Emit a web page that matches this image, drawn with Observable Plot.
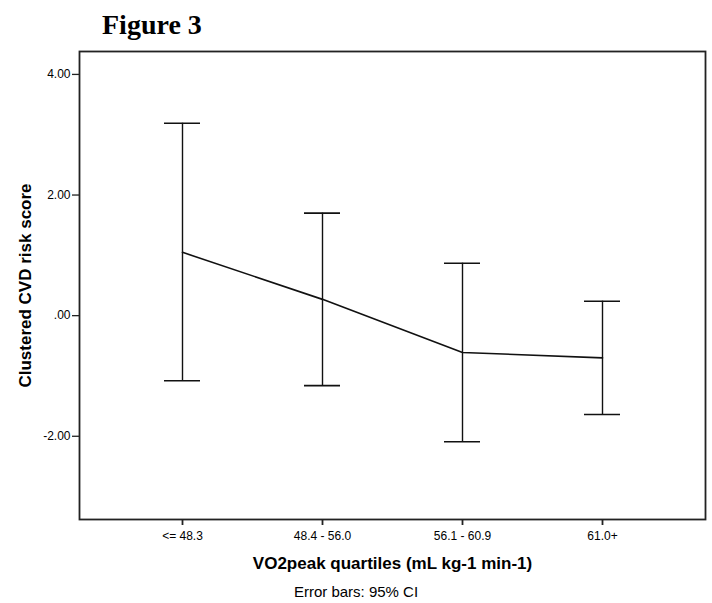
<!DOCTYPE html>
<html>
<head>
<meta charset="utf-8">
<script src="https://cdn.jsdelivr.net/npm/d3@7"></script>
<script src="https://cdn.jsdelivr.net/npm/@observablehq/plot@0.6"></script>
<style>
  html, body { margin: 0; padding: 0; background: #fff; }
  #wrap { position: relative; width: 712px; height: 603px; overflow: hidden; }
  #title { position: absolute; left: 102px; top: 11px; font-family: "Liberation Serif", "Times New Roman", serif; font-weight: bold; font-size: 28px; line-height: 28px; color: #000; white-space: nowrap; }
  #chart { position: absolute; left: 0; top: 0; }
  #chart svg { display: block; }
  #caption { position: absolute; left: 0; top: 583px; width: 712px; text-align: center; font-family: "Liberation Sans", Arial, sans-serif; font-size: 15px; line-height: 17px; color: #000; }
</style>
</head>
<body>
<div id="wrap">
  <div id="chart"></div>
  <div id="title"></div>
  <div id="caption"></div>
</div>
<script>
const titleText = "Figure 3";
const xTitle = "VO2peak quartiles (mL kg-1 min-1)";
const yTitle = "Clustered CVD risk score";
const captionText = "Error bars: 95% CI";

const categories = ["<= 48.3", "48.4 - 56.0", "56.1 - 60.9", "61.0+"];
const means = [1.05, 0.27, -0.61, -0.70];
const lower = [-1.08, -1.16, -2.09, -1.64];
const upper = [3.19, 1.70, 0.87, 0.24];
const yTicks = [4, 2, 0, -2];

const data = categories.map((c, i) => ({cat: c, mean: means[i], lo: lower[i], hi: upper[i]}));

const fmt = v => {
  const s = d3.format(".2f")(v).replace("\u2212", "-");
  return s.replace(/^(-?)0\./, "$1.");
};

const font = '"Liberation Sans", Arial, sans-serif';
const ink = "#111";

const chart = Plot.plot({
  width: 712,
  height: 575,
  marginTop: 51,
  marginLeft: 79,
  marginRight: 7,
  marginBottom: 56,
  style: {fontFamily: font, background: "white", color: "#000"},
  x: {type: "band", domain: categories, paddingInner: 0.744, paddingOuter: 0.597},
  y: {domain: [-3.38, 4.38]},
  marks: [
    Plot.frame({stroke: "#222", strokeWidth: 1.8}),
    Plot.axisY({ticks: yTicks, tickFormat: fmt, tickSize: 7, tickPadding: 2, fontSize: 12, label: null, stroke: "#222", strokeWidth: 1.3}),
    Plot.axisX({tickSize: 6, tickPadding: 6, fontSize: 12, label: null, stroke: "#222", strokeWidth: 1.8}),
    Plot.ruleX(data, {x: "cat", y1: "lo", y2: "hi", stroke: ink, strokeWidth: 1.4}),
    Plot.tickY(data, {x: "cat", y: "lo", stroke: ink, strokeWidth: 1.6}),
    Plot.tickY(data, {x: "cat", y: "hi", stroke: ink, strokeWidth: 1.6}),
    Plot.line(data, {x: "cat", y: "mean", stroke: ink, strokeWidth: 1.6}),
    Plot.text([yTitle], {frameAnchor: "left", dx: -54, rotate: -90, fontSize: 17, fontWeight: "bold", fill: "#000", textAnchor: "middle", lineAnchor: "middle"}),
    Plot.text([xTitle], {frameAnchor: "bottom", dy: 44, fontSize: 17, fontWeight: "bold", fill: "#000", textAnchor: "middle", lineAnchor: "middle"})
  ]
});

document.getElementById("chart").appendChild(chart);
document.getElementById("title").textContent = titleText;
document.getElementById("caption").textContent = captionText;
</script>
</body>
</html>
